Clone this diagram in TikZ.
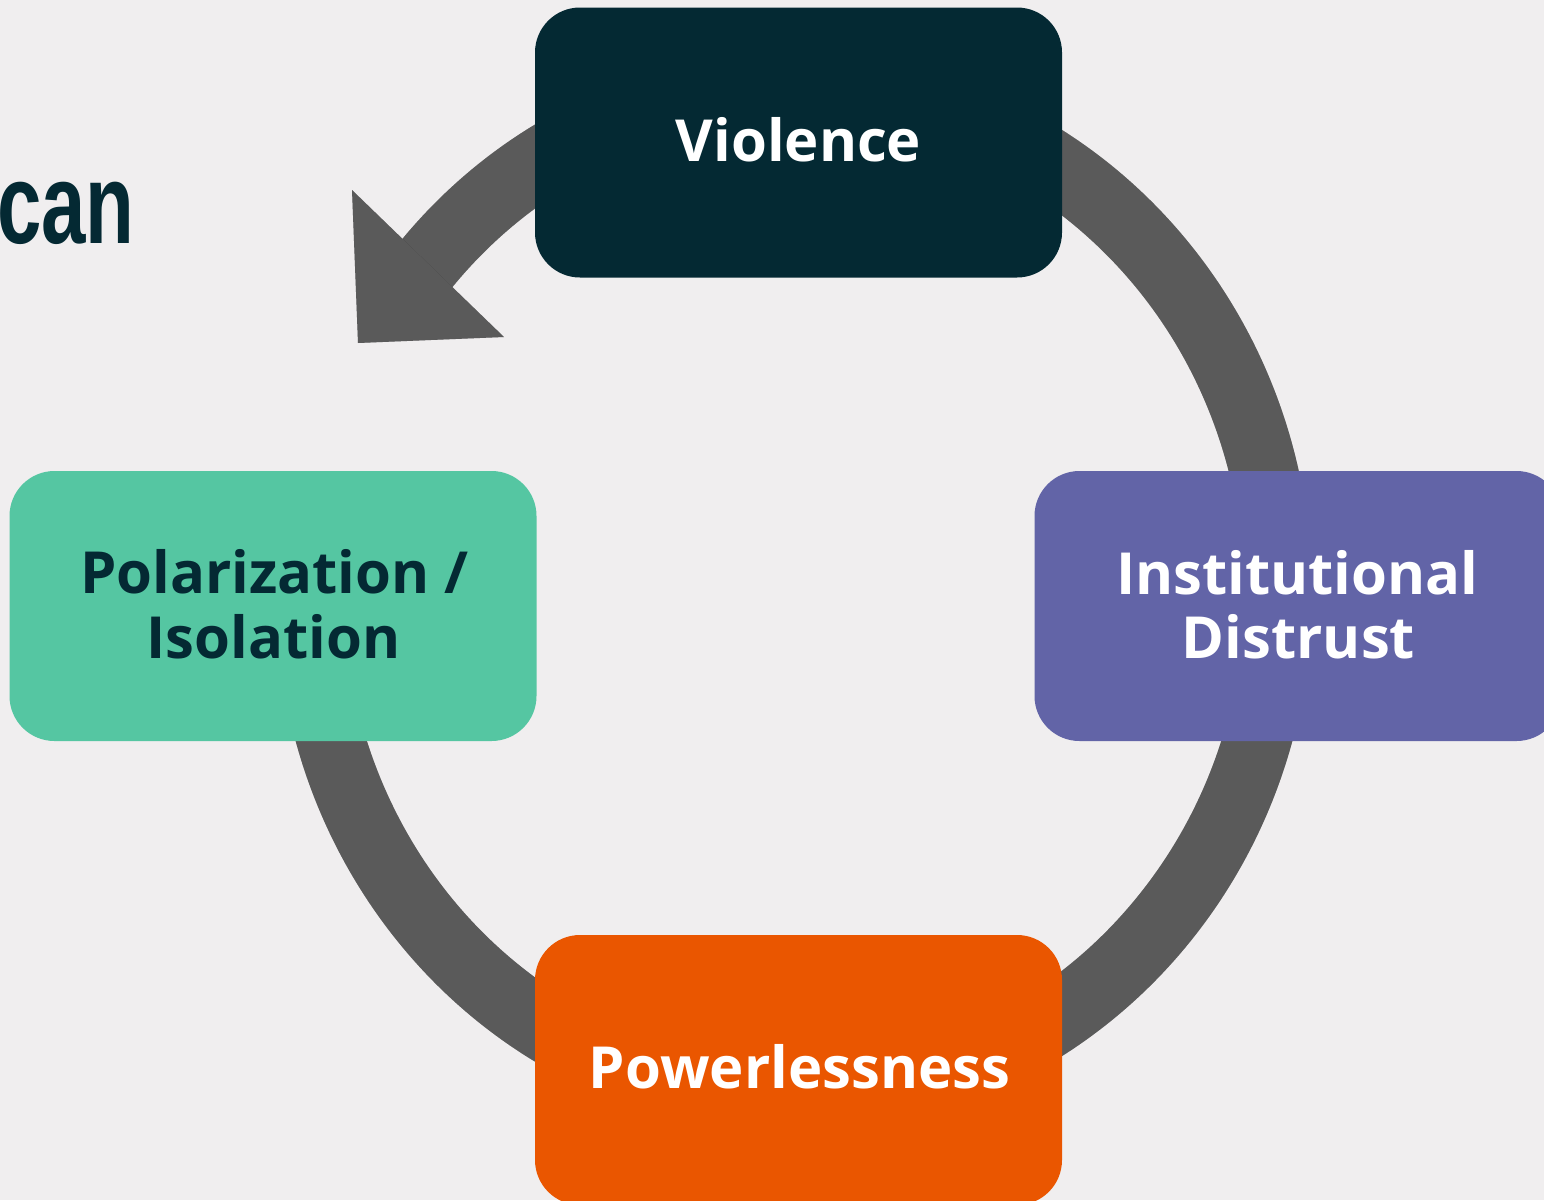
\documentclass[tikz,border=0pt]{standalone}
\usepackage{fontspec}
\newfontfamily\lblfont{Open Sans}
\newfontfamily\canfont{Liberation Sans}
\definecolor{bgc}{HTML}{F0EEEF}
\definecolor{ringgray}{HTML}{5A5A5A}
\definecolor{navy}{HTML}{042933}
\definecolor{mint}{HTML}{55C6A2}
\definecolor{purp}{HTML}{6264A7}
\definecolor{orng}{HTML}{EA5600}
\begin{document}
\begin{tikzpicture}[x=1pt,y=-1pt,
  box/.style={rectangle, rounded corners=45pt, minimum width=527pt, minimum height=270pt, inner sep=0pt, draw=none},
  lbl/.style={font={\lblfont\bfseries\fontsize{58pt}{65pt}\selectfont}, anchor=base, inner sep=0pt},
  ringfill/.style={fill=ringgray}]
\useasboundingbox (0,0) rectangle (1544,1200);
\clip (0,0) rectangle (1544,1200);
\fill[bgc] (0,0) rectangle (1544,1200);
\coordinate (c) at (794,593);
\coordinate (t1) at (352,190);
\coordinate (t2) at (504,337);
\coordinate (t3) at (358,343);
\def\ringshape{([shift={(180:518 and 541)}]c) arc[start angle=180, end angle=-141, x radius=518, y radius=541]
  -- ([shift={(-141:450 and 470)}]c) arc[start angle=-141, end angle=180, x radius=450, y radius=470] -- cycle}
\def\headshape{(t1) -- (t2) -- (t3) -- cycle}
% soft shadows
\foreach \s/\o in {5/0.04,4/0.05,3/0.07,2/0.08} {
  \fill[black, opacity=\o, shift={(\s,\s)}] \ringshape;
}
\fill[ringfill] \ringshape;
\foreach \s/\o in {5/0.04,4/0.05,3/0.07,2/0.08} {
  \fill[black, opacity=\o, shift={(\s,\s)}] \headshape;
}
\fill[ringfill] \headshape;
% title fragment
\node[anchor=base west, inner sep=0pt, text=navy, font={\canfont\bfseries\fontsize{114pt}{114pt}\selectfont}] (can) at (-3,243) {\scalebox{0.7}[1]{can}};
% boxes
\node[box, fill=navy] (v) at (798.5,142.5) {};
\node[box, fill=mint] (p) at (273,606) {};
\node[box, fill=purp] (i) at (1298,606) {};
\node[box, fill=orng] (w) at (798.5,1070) {};
% labels
\node[lbl, text=white] (vt) at (798.5,161) {Violence};
\node[lbl, text=navy] (pt1) at (274.5,593) {Polarization /};
\node[lbl, text=navy] (pt2) at (273.5,658) {Isolation};
\node[lbl, text=white] (it1) at (1297.5,594) {Institutional};
\node[lbl, text=white] (it2) at (1298.5,658) {Distrust};
\node[lbl, text=white] (wt) at (799.5,1088) {Powerlessness};
\end{tikzpicture}
\end{document}
